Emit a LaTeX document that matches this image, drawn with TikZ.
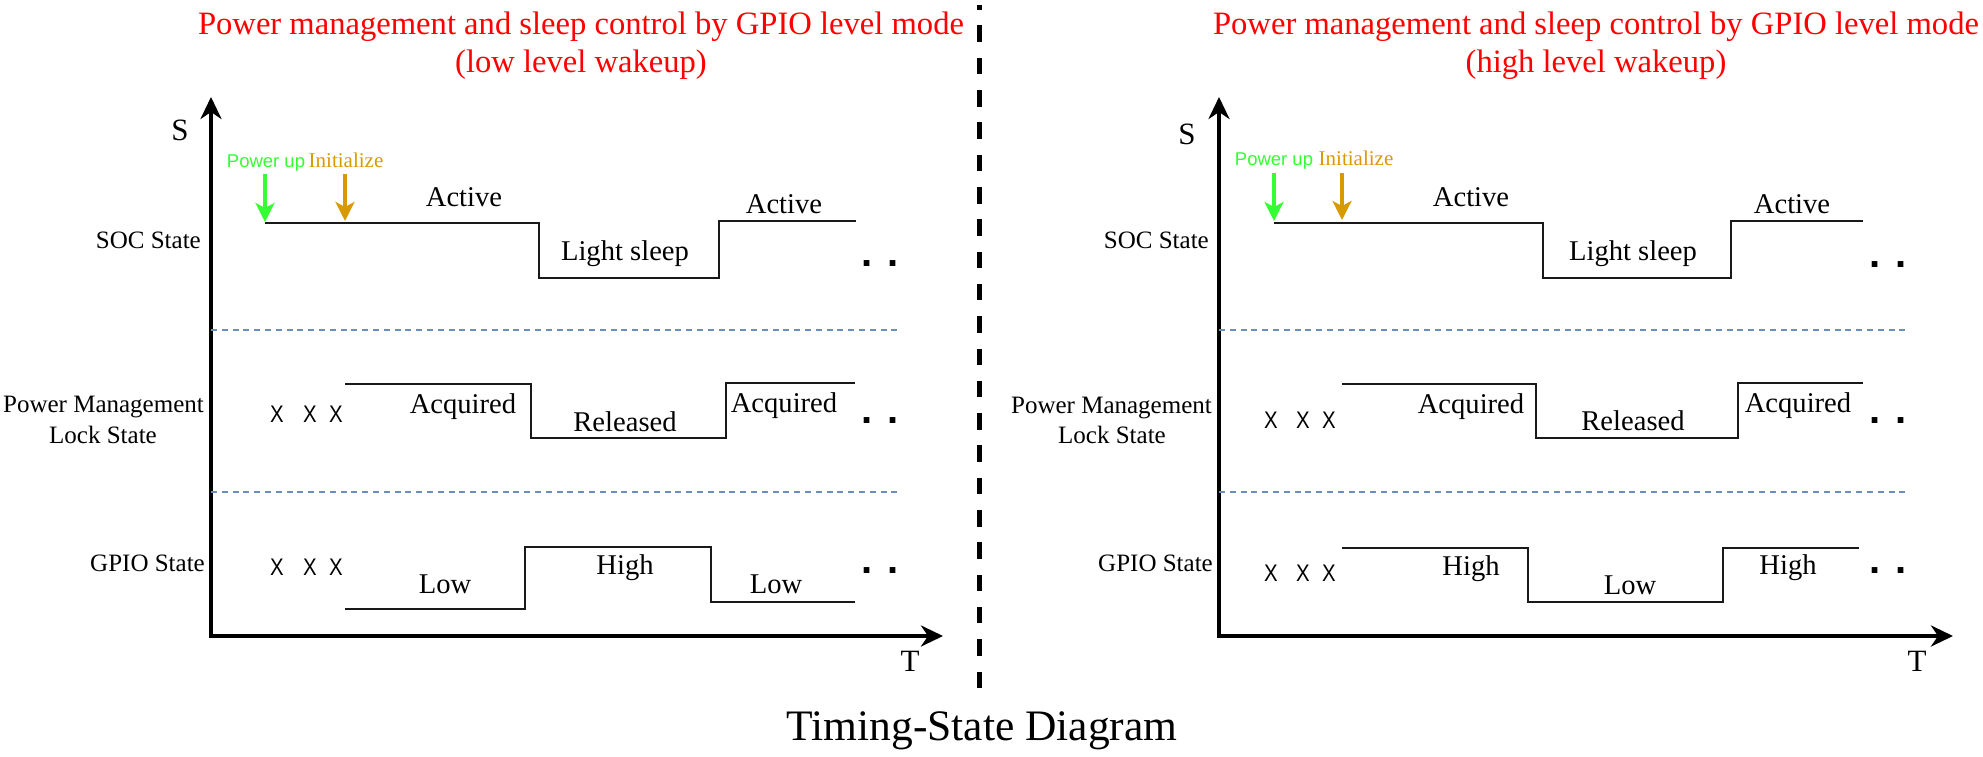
\documentclass[tikz,border=0pt]{standalone}
\usepackage{fontspec}
\usepackage{graphicx}
\setmainfont{Liberation Serif}
\newfontfamily\arialf{Liberation Sans}
\usetikzlibrary{arrows.meta}
\definecolor{evgreen}{HTML}{33FF33}
\definecolor{evorange}{HTML}{D79B00}
\definecolor{sepblue}{HTML}{6C8EBF}
\newcommand\fsz[1]{\fontsize{#1}{#1}\selectfont}
\tikzset{
  axes/.style={line width=4pt, {Stealth[length=22pt,width=21pt,inset=7pt]}-{Stealth[length=22pt,width=21pt,inset=7pt]}},
  sig/.style={line width=2pt, draw=black!90, line join=miter},
  sepline/.style={line width=1.6pt, draw=sepblue, dash pattern=on 6pt off 4.8pt},
  divider/.style={line width=5pt, dash pattern=on 16.5pt off 15.8pt},
  evt/.style={line width=3.5pt, -{Stealth[length=19pt,width=19pt,inset=5pt]}},
  lbl/.style={font=\fsz{28.6pt}, anchor=base, inner sep=0pt},
  side/.style={font=\fsz{25pt}, anchor=base east, inner sep=0pt},
  sidec/.style={font=\fsz{25pt}, anchor=base, inner sep=0pt},
  axlbl/.style={font=\fsz{31pt}, anchor=base, inner sep=0pt},
  ttl/.style={text=red, font=\fsz{32.6pt}, anchor=base, inner sep=0pt},
  dotsn/.style={font=\arialf\bfseries\fsz{40pt}, anchor=base, inner sep=0pt},
  xmark/.style={font=\arialf\fsz{24pt}, inner sep=0pt},
  pwr/.style={text=evgreen, font=\arialf\fsz{18.5pt}, anchor=base, inner sep=0pt},
  ini/.style={text=evorange, font=\fsz{21pt}, anchor=base, inner sep=0pt},
}
\begin{document}
\begin{tikzpicture}[x=1pt,y=-1pt]
\useasboundingbox (0,0) rectangle (1983,757);

% ---------------- LEFT PANEL ----------------
\node[ttl] (lt1) at (581,35) {Power management and sleep control by GPIO level mode};
\node[ttl] (lt2) at (581,72.5) {(low level wakeup)};

\draw[axes] (211,97) -- (211,636) -- (943,636);
\node[axlbl] (lS) at (180,140) {S};
\node[axlbl] (lT) at (910,671) {T};

\draw[sepline] (211,330) -- (902,330);
\draw[sepline] (211,492) -- (902,492);

\node[side] (lsoc) at (201,248) {SOC State};
\node[side] (lpm1) at (204,412) {Power Management};
\node[sidec] (lpm2) at (103,443) {Lock State};
\node[side] (lgpio) at (205,571) {GPIO State};

\node[pwr] (lpu) at (266,167) {Power up};
\node[ini] (lin) at (346,167) {Initialize};
\draw[evt, evgreen] (265,174) -- (265,222);
\draw[evt, evorange] (345,174) -- (345,221);

\draw[sig] (265,223) -- (539,223) -- (539,278) -- (719,278) -- (719,221) -- (856,221);
\draw[sig] (345,384) -- (531,384) -- (531,438) -- (726,438) -- (726,383) -- (855,383);
\draw[sig] (345,609) -- (525,609) -- (525,547) -- (711,547) -- (711,602) -- (855,602);

\node[lbl] (la1) at (464,206) {Active};
\node[lbl] (lls) at (625,260) {Light sleep};
\node[lbl] (la2) at (784,213) {Active};
\node[lbl] (lq1) at (463,413) {Acquired};
\node[lbl] (lrl) at (625,431) {Released};
\node[lbl] (lq2) at (784,412) {Acquired};
\node[lbl] (llo1) at (445,593) {Low};
\node[lbl] (lhi) at (625,574) {High};
\node[lbl] (llo2) at (776,593) {Low};

\node[xmark] (lx1) at (277,414) {\scalebox{0.85}[1]{X}};
\node[xmark] (lx2) at (310,414) {\scalebox{0.85}[1]{X}};
\node[xmark] (lx3) at (336,414) {\scalebox{0.85}[1]{X}};
\node[xmark] (lx4) at (277,567) {\scalebox{0.85}[1]{X}};
\node[xmark] (lx5) at (310,567) {\scalebox{0.85}[1]{X}};
\node[xmark] (lx6) at (336,567) {\scalebox{0.85}[1]{X}};

\node[dotsn] (ld1) at (880,266) {. .};
\node[dotsn] (ld2) at (880,423) {. .};
\node[dotsn] (ld3) at (880,573) {. .};

% ---------------- DIVIDER ----------------
\draw[divider] (979,688) -- (979,5);

% ---------------- RIGHT PANEL ----------------
\node[ttl] (rt1) at (1596,35) {Power management and sleep control by GPIO level mode};
\node[ttl] (rt2) at (1596,72.5) {(high level wakeup)};

\draw[axes] (1219,97) -- (1219,636) -- (1953,636);
\node[axlbl] (rS) at (1187,145) {S};
\node[axlbl] (rT) at (1917,671) {T};

\draw[sepline] (1219,330) -- (1910,330);
\draw[sepline] (1219,492) -- (1910,492);

\node[side] (rsoc) at (1209,248) {SOC State};
\node[side] (rpm1) at (1212,413) {Power Management};
\node[sidec] (rpm2) at (1112,443) {Lock State};
\node[side] (rgpio) at (1213,571) {GPIO State};

\node[pwr] (rpu) at (1274,165) {Power up};
\node[ini] (rin) at (1356,165) {Initialize};
\draw[evt, evgreen] (1274,173) -- (1274,221);
\draw[evt, evorange] (1342,173) -- (1342,220);

\draw[sig] (1274,223) -- (1543,223) -- (1543,278) -- (1731,278) -- (1731,221) -- (1863,221);
\draw[sig] (1342,384) -- (1536,384) -- (1536,438) -- (1738,438) -- (1738,383) -- (1863,383);
\draw[sig] (1342,548) -- (1528,548) -- (1528,602) -- (1723,602) -- (1723,548) -- (1859,548);

\node[lbl] (ra1) at (1471,206) {Active};
\node[lbl] (rls) at (1633,260) {Light sleep};
\node[lbl] (ra2) at (1792,213) {Active};
\node[lbl] (rq1) at (1471,413) {Acquired};
\node[lbl] (rrl) at (1633,430) {Released};
\node[lbl] (rq2) at (1798,412) {Acquired};
\node[lbl] (rhi1) at (1471,575) {High};
\node[lbl] (rlo) at (1630,594) {Low};
\node[lbl] (rhi2) at (1788,574) {High};

\node[xmark] (rx1) at (1271,420) {\scalebox{0.85}[1]{X}};
\node[xmark] (rx2) at (1303,420) {\scalebox{0.85}[1]{X}};
\node[xmark] (rx3) at (1329,420) {\scalebox{0.85}[1]{X}};
\node[xmark] (rx4) at (1271,573) {\scalebox{0.85}[1]{X}};
\node[xmark] (rx5) at (1303,573) {\scalebox{0.85}[1]{X}};
\node[xmark] (rx6) at (1329,573) {\scalebox{0.85}[1]{X}};

\node[dotsn] (rd1) at (1888,267) {. .};
\node[dotsn] (rd2) at (1888,423) {. .};
\node[dotsn] (rd3) at (1888,573) {. .};

% ---------------- CAPTION ----------------
\node[font=\fsz{43.5pt}, anchor=base, inner sep=0pt] (cap) at (982,740) {Timing-State Diagram};
\end{tikzpicture}
\end{document}
